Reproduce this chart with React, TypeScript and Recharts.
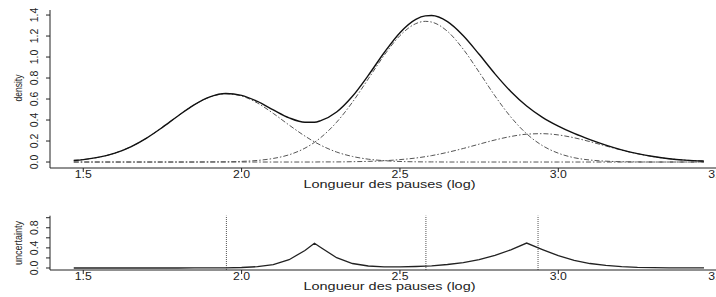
import React from "react";
import { LineChart, Line, XAxis, YAxis, ReferenceLine, Label } from "recharts";

// x grid (log pause length)
const xs = [1.47, 1.5, 1.55, 1.6, 1.65, 1.7, 1.75, 1.8, 1.85, 1.9, 1.95, 2.0, 2.05, 2.1, 2.15, 2.2, 2.23, 2.25, 2.3, 2.35, 2.4, 2.45, 2.5, 2.55, 2.58, 2.6, 2.65, 2.7, 2.75, 2.8, 2.85, 2.9, 2.95, 3.0, 3.05, 3.1, 3.15, 3.2, 3.25, 3.3, 3.35, 3.4, 3.45, 3.46];

const density = [0.015, 0.023, 0.046, 0.085, 0.145, 0.228, 0.33, 0.441, 0.544, 0.62, 0.652, 0.635, 0.577, 0.497, 0.421, 0.379, 0.379, 0.394, 0.476, 0.626, 0.825, 1.041, 1.232, 1.359, 1.392, 1.395, 1.337, 1.203, 1.026, 0.84, 0.672, 0.534, 0.426, 0.342, 0.272, 0.213, 0.161, 0.116, 0.08, 0.052, 0.031, 0.018, 0.01, 0.008];

const comp1 = [0.015, 0.023, 0.046, 0.085, 0.145, 0.228, 0.33, 0.441, 0.544, 0.619, 0.65, 0.629, 0.562, 0.463, 0.352, 0.247, 0.192, 0.16, 0.095, 0.053, 0.027, 0.013, 0.005, 0.002, 0.001, 0.001, 0, 0, 0, 0, 0, 0, 0, 0, 0, 0, 0, 0, 0, 0, 0, 0, 0, 0];

const comp2 = [0, 0, 0, 0, 0, 0, 0, 0, 0, 0.001, 0.002, 0.006, 0.015, 0.034, 0.069, 0.132, 0.187, 0.233, 0.379, 0.57, 0.792, 1.016, 1.204, 1.318, 1.34, 1.333, 1.245, 1.074, 0.856, 0.63, 0.429, 0.269, 0.156, 0.084, 0.041, 0.019, 0.008, 0.003, 0.001, 0, 0, 0, 0, 0];

const comp3 = [0, 0, 0, 0, 0, 0, 0, 0, 0, 0, 0, 0, 0, 0, 0, 0, 0, 0.001, 0.001, 0.003, 0.006, 0.012, 0.023, 0.038, 0.051, 0.061, 0.092, 0.129, 0.17, 0.21, 0.243, 0.265, 0.27, 0.258, 0.231, 0.194, 0.153, 0.113, 0.079, 0.051, 0.031, 0.018, 0.01, 0.008];

const uncertainty = [0, 0, 0, 0, 0, 0, 0, 0, 0.001, 0.001, 0.004, 0.01, 0.026, 0.067, 0.165, 0.349, 0.493, 0.409, 0.204, 0.089, 0.04, 0.024, 0.023, 0.03, 0.037, 0.044, 0.069, 0.107, 0.166, 0.25, 0.362, 0.496, 0.367, 0.245, 0.151, 0.089, 0.05, 0.027, 0.014, 0.008, 0.003, 0.002, 0.001, 0.001];

const means = [1.952, 2.582, 2.936];

const xTicks = [1.5, 2.0, 2.5, 3.0, 3.5];
const densityTicks = [0, 0.2, 0.4, 0.6, 0.8, 1.0, 1.2, 1.4];
const uncTicks = [0, 0.2, 0.4, 0.6, 0.8, 1.0];
const uncLabels = [0, 0.4, 0.8];

const X_DOMAIN: [number, number] = [1.395, 3.539];
const FONT = "'Liberation Sans', Arial, Helvetica, sans-serif";
const INK = "#222";

const rows = xs.map((x, i) => ({
  x,
  density: density[i],
  c1: comp1[i],
  c2: comp2[i],
  c3: comp3[i],
  unc: uncertainty[i],
}));

const XTick = (props: any) => {
  const { x, payload, baseY } = props;
  return (
    <text x={x} y={baseY} textAnchor="middle" fontSize={10} fontFamily={FONT} fill={INK}
      textLength={17} lengthAdjust="spacingAndGlyphs">
      {Number(payload.value).toFixed(1)}
    </text>
  );
};

const YTick = (props: any) => {
  const { y, payload, show } = props;
  if (show && !show.some((v: number) => Math.abs(v - payload.value) < 1e-6)) return <g />;
  return (
    <text x={38.5} y={y} transform={`rotate(-90, 38.5, ${y})`} textAnchor="middle" fontSize={10.5}
      fontFamily={FONT} fill={INK}>
      {Number(payload.value).toFixed(1)}
    </text>
  );
};

const XTitle = (baseY: number) => () => (
  <text x={389.5} y={baseY} textAnchor="middle" fontSize={10.5} fontFamily={FONT} fill={INK}
    textLength={172} lengthAdjust="spacingAndGlyphs">
    Longueur des pauses (log)
  </text>
);

const YTitle = (text: string, cy: number, len: number) => () => (
  <text x={21.5} y={cy} transform={`rotate(-90, 21.5, ${cy})`} textAnchor="middle" fontSize={11}
    fontFamily={FONT} fill={INK} textLength={len} lengthAdjust="spacingAndGlyphs">
    {text}
  </text>
);

const compStyle = { stroke: "#555", strokeWidth: 1, strokeDasharray: "5 2 1.5 2" };

export default function App() {
  return (
    <div style={{ position: "absolute", left: 0, top: 0, width: 716, height: 297, overflow: "hidden", background: "#fff" }}>
      <div style={{ position: "absolute", left: 0, top: 0 }}>
        <LineChart width={740} height={200} data={rows} margin={{ top: 10, right: 11, left: 10, bottom: 2 }}>
          <XAxis dataKey="x" type="number" domain={X_DOMAIN} ticks={xTicks} allowDataOverflow height={30}
            tickSize={4} tickLine={{ stroke: INK }} axisLine={{ stroke: INK }}
            tick={<XTick baseY={177.5} />} interval={0}>
            <Label content={XTitle(188)} />
          </XAxis>
          <XAxis xAxisId="top" orientation="top" type="number" domain={X_DOMAIN} allowDataOverflow height={0}
            tick={false} tickLine={false} axisLine={{ stroke: INK }} />
          <YAxis type="number" domain={[-0.057, 1.448]} ticks={densityTicks} allowDataOverflow width={40}
            tickSize={4} tickLine={{ stroke: INK }} axisLine={{ stroke: INK }} tick={<YTick />} interval={0}>
            <Label content={YTitle("density", 88, 27)} />
          </YAxis>
          <Line dataKey="c1" type="monotone" dot={false} isAnimationActive={false} {...compStyle} />
          <Line dataKey="c2" type="monotone" dot={false} isAnimationActive={false} {...compStyle} />
          <Line dataKey="c3" type="monotone" dot={false} isAnimationActive={false} {...compStyle} />
          <Line dataKey="density" type="monotone" dot={false} isAnimationActive={false} stroke="#111" strokeWidth={1.4} />
        </LineChart>
      </div>
      <div style={{ position: "absolute", left: 0, top: 200 }}>
        <LineChart width={740} height={97} data={rows} margin={{ top: 15.7, right: 11, left: 10, bottom: 2 }}>
          <XAxis dataKey="x" type="number" domain={X_DOMAIN} ticks={xTicks} allowDataOverflow height={25}
            tickSize={4} tickLine={{ stroke: INK }} axisLine={{ stroke: INK }}
            tick={<XTick baseY={79.5} />} interval={0}>
            <Label content={XTitle(90)} />
          </XAxis>
          <XAxis xAxisId="top" orientation="top" type="number" domain={X_DOMAIN} allowDataOverflow height={0}
            tick={false} tickLine={false} axisLine={{ stroke: INK }} />
          <YAxis type="number" domain={[-0.04, 1.04]} ticks={uncTicks} allowDataOverflow width={40}
            tickSize={4} tickLine={{ stroke: INK }} axisLine={{ stroke: INK }} tick={<YTick show={uncLabels} />} interval={0}>
            <Label content={YTitle("uncertainty", 43, 44)} />
          </YAxis>
          {means.map((m) => (
            <ReferenceLine key={m} x={m} stroke="#555" strokeWidth={1} strokeDasharray="1 1" />
          ))}
          <Line dataKey="unc" type="linear" dot={false} isAnimationActive={false} stroke="#222" strokeWidth={1.3} />
        </LineChart>
      </div>
    </div>
  );
}
